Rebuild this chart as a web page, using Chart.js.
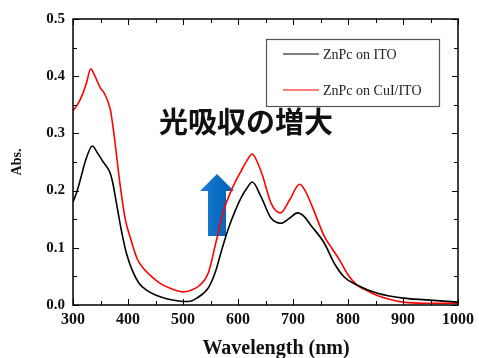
<!DOCTYPE html>
<html>
<head>
<meta charset="utf-8">
<script src="https://cdn.jsdelivr.net/npm/chart.js@4/dist/chart.umd.min.js"></script>
<style>
html, body { margin: 0; padding: 0; background: #fff; }
#wrap { width: 479px; height: 358px; }
</style>
</head>
<body>
<div id="wrap"><canvas id="absChart" width="479" height="358"></canvas></div>
<script>
// ZnPc absorption spectra
const seriesLabels = ['ZnPc on ITO', 'ZnPc on CuI/ITO'];
const itoWavelengths = [300, 307, 315, 322, 335, 345, 355, 367, 372, 379, 388, 397, 408, 420, 435, 451, 470, 492, 510, 525, 546, 559, 570, 583, 595, 606, 616, 626, 642, 660, 678, 694, 708, 720, 732, 757, 775, 793, 816, 852, 901, 942, 1000];
const itoAbs = [0.18, 0.198, 0.225, 0.25, 0.278, 0.265, 0.25, 0.232, 0.215, 0.178, 0.13, 0.091, 0.06, 0.038, 0.025, 0.017, 0.011, 0.007, 0.006, 0.012, 0.03, 0.058, 0.095, 0.135, 0.165, 0.188, 0.204, 0.215, 0.189, 0.152, 0.143, 0.152, 0.161, 0.155, 0.14, 0.108, 0.073, 0.049, 0.035, 0.021, 0.012, 0.009, 0.005];
const cuiWavelengths = [300, 308, 318, 325, 332, 339, 350, 357, 368, 375, 385, 395, 405, 417, 430, 445, 460, 480, 500, 515, 530, 546, 561, 574, 590, 606, 616, 626, 635, 645, 660, 677, 694, 712, 722, 735, 757, 770, 785, 800, 816, 835, 852, 875, 900, 940, 1000];
const cuiAbs = [0.34, 0.35, 0.37, 0.39, 0.413, 0.402, 0.379, 0.37, 0.341, 0.295, 0.215, 0.15, 0.115, 0.08, 0.062, 0.048, 0.037, 0.028, 0.023, 0.026, 0.034, 0.056, 0.114, 0.165, 0.205, 0.235, 0.252, 0.264, 0.25, 0.225, 0.178, 0.161, 0.184, 0.211, 0.2, 0.172, 0.12, 0.1, 0.078, 0.053, 0.035, 0.025, 0.017, 0.01, 0.005, 0.003, 0.003];
const seriesColors = ['#000000', '#ff0000'];
const xTicks = [300, 400, 500, 600, 700, 800, 900, 1000];
const yTicks = [0.0, 0.1, 0.2, 0.3, 0.4, 0.5];
const xTitle = 'Wavelength (nm)';
const noteText = '光吸収の増大';

const serif = "'Liberation Serif', 'DejaVu Serif', serif";

function toPoints(xs, ys) {
  return xs.map((x, i) => ({ x: x, y: ys[i] }));
}

// frame with inward ticks on all four sides, legend box, note and arrow
const frameTicks = {
  id: 'frameTicks',
  afterDatasetsDraw(chart) {
    const { ctx, chartArea: a, scales } = chart;
    ctx.save();
    ctx.strokeStyle = '#000';
    ctx.lineWidth = 1.5;
    ctx.strokeRect(a.left, a.top, a.right - a.left, a.bottom - a.top);
    ctx.lineWidth = 1;
    ctx.beginPath();
    for (let v = 300; v <= 1000; v += 50) {
      const px = Math.round(scales.x.getPixelForValue(v)) + 0.5;
      const len = v % 100 === 0 ? 6 : 4;
      ctx.moveTo(px, a.bottom); ctx.lineTo(px, a.bottom - len);
      ctx.moveTo(px, a.top); ctx.lineTo(px, a.top + len);
    }
    for (let i = 0; i <= 10; i++) {
      const py = Math.round(scales.y.getPixelForValue(i * 0.05)) + 0.5;
      const len = i % 2 === 0 ? 6 : 4;
      ctx.moveTo(a.left, py); ctx.lineTo(a.left + len, py);
      ctx.moveTo(a.right, py); ctx.lineTo(a.right - len, py);
    }
    ctx.stroke();

    // legend box
    ctx.strokeStyle = '#555';
    ctx.lineWidth = 1.2;
    ctx.strokeRect(266.5, 39.5, 173, 67);
    ctx.font = '14px ' + serif;
    ctx.textBaseline = 'middle';
    ctx.fillStyle = '#222';
    chart.data.datasets.forEach((ds, i) => {
      const y = 54 + i * 36;
      ctx.strokeStyle = ds.borderColor;
      ctx.lineWidth = 1.2;
      ctx.beginPath();
      ctx.moveTo(283, y); ctx.lineTo(319, y);
      ctx.stroke();
      ctx.fillText(ds.label, 323, y + 1);
    });

    // x axis title (sits a bit right of centre in the original)
    ctx.font = 'bold 20px ' + serif;
    ctx.fillStyle = '#111';
    ctx.textAlign = 'center';
    ctx.fillText(xTitle, 276, 349);

    // note text
    ctx.textAlign = 'left';
    ctx.font = "bold 29px 'Noto Sans CJK JP', sans-serif";
    ctx.fillText(noteText, 159, 122);
    ctx.restore();
  },
  beforeDatasetsDraw(chart) {
    const { ctx } = chart;
    ctx.save();
    const g = ctx.createLinearGradient(201, 0, 235, 0);
    g.addColorStop(0, '#1a7fd0');
    g.addColorStop(0.5, '#0a6cc2');
    g.addColorStop(1, '#0060b0');
    ctx.fillStyle = g;
    ctx.beginPath();
    ctx.moveTo(217, 174);
    ctx.lineTo(234, 191);
    ctx.lineTo(226, 191);
    ctx.lineTo(226, 236);
    ctx.lineTo(208, 236);
    ctx.lineTo(208, 191);
    ctx.lineTo(200, 191);
    ctx.closePath();
    ctx.fill();
    ctx.restore();
  }
};

new Chart(document.getElementById('absChart'), {
  type: 'line',
  data: {
    datasets: [{
      label: seriesLabels[0],
      data: toPoints(itoWavelengths, itoAbs),
      borderColor: seriesColors[0],
      borderWidth: 1.6,
      pointRadius: 0,
      cubicInterpolationMode: 'monotone'
    }, {
      label: seriesLabels[1],
      data: toPoints(cuiWavelengths, cuiAbs),
      borderColor: seriesColors[1],
      borderWidth: 1.6,
      pointRadius: 0,
      cubicInterpolationMode: 'monotone'
    }]
  },
  options: {
    responsive: false,
    animation: false,
    layout: { padding: { top: 19, right: 17, left: 0, bottom: 0 } },
    plugins: { legend: { display: false }, tooltip: { enabled: false } },
    scales: {
      x: {
        type: 'linear',
        min: 300,
        max: 1000,
        afterFit(scale) { scale.height = 53; },
        afterBuildTicks(scale) { scale.ticks = xTicks.map(v => ({ value: v })); },
        grid: { display: false, drawTicks: false },
        border: { display: false },
        ticks: {
          color: '#111',
          padding: 5,
          maxRotation: 0,
          font: { family: serif, size: 16, weight: 'bold' },
          callback: v => String(v)
        }
      },
      y: {
        min: 0,
        max: 0.5,
        afterFit(scale) { scale.width = 73; },
        afterBuildTicks(scale) { scale.ticks = yTicks.map(v => ({ value: v })); },
        grid: { display: false, drawTicks: false },
        border: { display: false },
        ticks: {
          color: '#111',
          padding: 8,
          font: { family: serif, size: 15, weight: 'bold' },
          callback: v => v.toFixed(1)
        },
        title: {
          display: true,
          text: 'Abs.',
          color: '#111',
          padding: { top: 10, bottom: 0 },
          font: { family: serif, size: 14, weight: 'bold', lineHeight: 1 }
        }
      }
    }
  },
  plugins: [frameTicks]
});
</script>
</body>
</html>
